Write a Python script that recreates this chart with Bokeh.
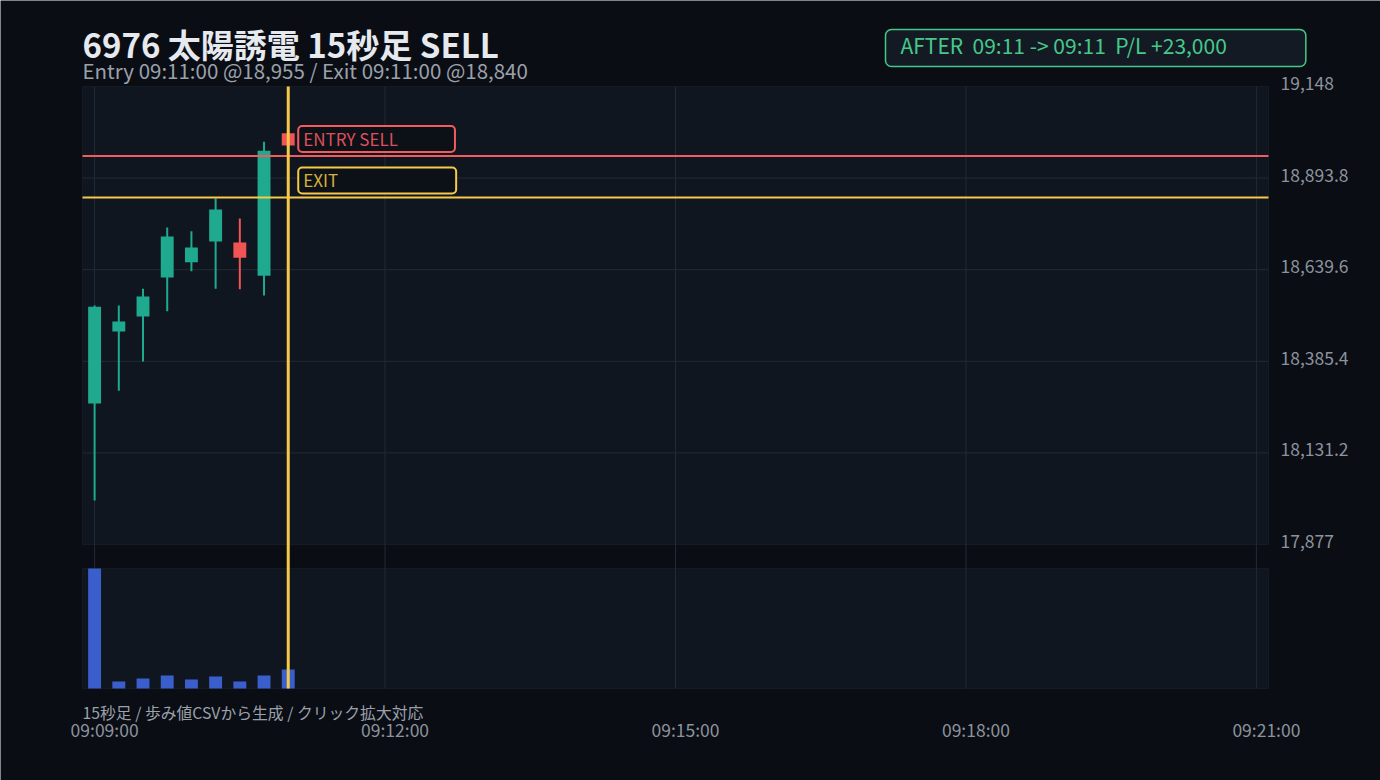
import pandas as pd
from bokeh.plotting import figure
from bokeh.models import (Range1d, Label, LabelSet, ColumnDataSource, BoxAnnotation)
from bokeh.core.properties import value
from bokeh.embed import file_html
from bokeh.resources import INLINE

FONT = "Noto Sans CJK JP"

# ---------------- data ----------------
session_date = "2024-01-01"
bar_times = ["09:09:00", "09:09:15", "09:09:30", "09:09:45", "09:10:00",
             "09:10:15", "09:10:30", "09:10:45", "09:11:00"]
opens = [18268, 18468, 18510, 18618, 18660, 18718, 18715, 18623, 19018]
highs = [18540, 18540, 18587, 18757, 18746, 18837, 18782, 18995, 19018]
lows = [17999, 18304, 18385, 18524, 18635, 18587, 18585, 18568, 18984]
closes = [18537, 18496, 18565, 18732, 18701, 18807, 18673, 18970, 18984]
volumes = [3600, 210, 300, 390, 270, 360, 210, 390, 570]

price_ticks = [17877, 18131.2, 18385.4, 18639.6, 18893.8, 19148]
time_ticks = ["09:09:00", "09:12:00", "09:15:00", "09:18:00", "09:21:00"]

entry_time = "09:11:00"
entry_price = 18955
exit_price = 18840

title_text = "6976 太陽誘電 15秒足 SELL"
subtitle_text = "Entry 09:11:00 @18,955 / Exit 09:11:00 @18,840"
after_text = "AFTER\u00a0 09:11 -> 09:11\u00a0 P/L +23,000"
footer_text = "15秒足 / 歩み値CSVから生成 / クリック拡大対応"
entry_label = "ENTRY SELL"
exit_label = "EXIT"

# ---------------- styling / layout ----------------
BG = "#0a0d14"
PANEL = "#10161f"
BORDER = "#2a313b"
GRID = "#222a35"
UP = "#1faa8f"
DOWN = "#f05454"
VOL = "#3a5fcd"
YELLOW = "#f7c948"
RED_LINE = "#f25c5c"
AFTER_GREEN = "#45c98a"
TEXT = "#e6e9ee"
SUB = "#9aa1ab"
AXIS = "#8c939d"

W, H = 1380, 780
PL, PR = 82, 1268                 # panel left / right (px)
MT, MB = 86, 544                  # main panel top / bottom (px)
VT, VB = 568, 688                 # volume panel top / bottom (px)

def to_ms(t):
    ts = pd.Timestamp(f"{session_date} {t}")
    return (ts - pd.Timestamp("1970-01-01")) / pd.Timedelta(milliseconds=1)

x = [to_ms(t) for t in bar_times]
tick_ms = [to_ms(t) for t in time_ticks]
entry_ms = to_ms(entry_time)
half = 7500

colors = [UP if c >= o else DOWN for o, c in zip(opens, closes)]
body_top = [max(o, c) for o, c in zip(opens, closes)]
body_bot = [min(o, c) for o, c in zip(opens, closes)]
src = ColumnDataSource(dict(x=x, h=highs, l=lows, bt=body_top, bb=body_bot,
                            col=colors, v=volumes))

# scales: the frame is the whole canvas, panels are sub-regions of it
xs, xe = tick_ms[0] - half, tick_ms[-1] + half
mpp = (xe - xs) / (PR - PL)
p_lo, p_hi = price_ticks[0], price_ticks[-1]
upp = (p_hi - p_lo) / (MB - MT)
vmax = max(volumes)
vpp = vmax / (VB - VT)
y_panel_bottom = p_lo - (VB - MB) * upp

p = figure(width=W, height=H,
           x_range=Range1d(xs - PL * mpp, xe + (W - PR) * mpp),
           y_range=Range1d(p_lo - (H - MB) * upp, p_hi + MT * upp),
           output_backend="svg", toolbar_location=None, min_border=0,
           x_axis_location=None, y_axis_location=None,
           background_fill_color=BG, border_fill_color=BG, outline_line_color=None)
p.grid.visible = False
p.extra_y_ranges = {"vol": Range1d(-(H - VB) * vpp, vmax + VT * vpp)}

# panels
p.add_layout(BoxAnnotation(left=xs, right=xe, bottom=p_lo, top=p_hi, fill_color=PANEL,
                           fill_alpha=1, line_color=BORDER, line_width=1, level="image"))
p.add_layout(BoxAnnotation(left=xs, right=xe, bottom=0, top=vmax, y_range_name="vol",
                           fill_color=PANEL, fill_alpha=1, line_color=BORDER,
                           line_width=1, level="image"))

# grid lines
inner_p = price_ticks[1:-1]
p.segment(x0=[xs] * len(inner_p), x1=[xe] * len(inner_p), y0=inner_p, y1=inner_p,
          line_color=GRID, line_width=1)
p.segment(x0=tick_ms, x1=tick_ms, y0=[y_panel_bottom] * len(tick_ms),
          y1=[p_hi] * len(tick_ms), line_color=GRID, line_width=1)

# candles
p.segment(x0="x", y0="l", x1="x", y1="h", source=src, line_color="col", line_width=2)
p.vbar(x="x", width=8000, top="bt", bottom="bb", source=src,
       fill_color="col", line_color=None)
# volume
p.vbar(x="x", width=8000, top="v", bottom=0, source=src, y_range_name="vol",
       fill_color=VOL, line_color=None)

# entry / exit lines
p.segment(x0=[xs], x1=[xe], y0=[entry_price], y1=[entry_price], line_color=RED_LINE, line_width=2)
p.segment(x0=[xs], x1=[xe], y0=[exit_price], y1=[exit_price], line_color=YELLOW, line_width=2)
p.segment(x0=[entry_ms], x1=[entry_ms], y0=[y_panel_bottom], y1=[p_hi],
          line_color=YELLOW, line_width=3)

p.add_layout(Label(x=entry_ms, y=entry_price, x_offset=10, y_offset=4, text=entry_label,
                   text_align="left", text_baseline="bottom", text_font=FONT,
                   text_font_size="17px", text_color="#de4f5a",
                   background_fill_color="#0c1118", background_fill_alpha=1,
                   border_line_color=RED_LINE, border_line_width=2,
                   padding=dict(left=5, right=57, top=0, bottom=1), border_radius=4))
p.add_layout(Label(x=entry_ms, y=exit_price, x_offset=10, y_offset=4, text=exit_label,
                   text_align="left", text_baseline="bottom", text_font=FONT,
                   text_font_size="17px", text_color="#d6b13c",
                   background_fill_color="#0c1118", background_fill_alpha=1,
                   border_line_color=YELLOW, border_line_width=2,
                   padding=dict(left=5, right=118, top=0, bottom=1), border_radius=4))

# price axis labels (right)
price_labels = [f"{v:,.1f}".removesuffix(".0") for v in price_ticks]
psrc = ColumnDataSource(dict(y=price_ticks, t=price_labels))
p.add_layout(LabelSet(x=value(PR + 12), x_units="screen", y="y", text="t", source=psrc,
                      y_offset=3, text_align="left", text_baseline="middle",
                      text_font=value(FONT), text_font_size=value("17.5px"),
                      text_color=AXIS))

# time axis labels (bottom)
tsrc = ColumnDataSource(dict(x=tick_ms, t=time_ticks))
p.add_layout(LabelSet(x="x", y=value(H - 729), y_units="screen", text="t", source=tsrc,
                      x_offset=10, text_align="center", text_baseline="middle",
                      text_font=value(FONT), text_font_size=value("17.5px"),
                      text_color=AXIS))

# title, subtitle, status box, footer
p.add_layout(Label(x=PL, y=H - 43, x_units="screen", y_units="screen", text=title_text,
                   text_baseline="alphabetic", text_font=FONT, text_font_size="33px",
                   text_font_style="bold", text_color=TEXT))
p.add_layout(Label(x=PL, y=H - 69, x_units="screen", y_units="screen", text=subtitle_text,
                   text_baseline="alphabetic", text_font=FONT, text_font_size="20.5px",
                   text_color=SUB))
p.add_layout(Label(x=885, y=H - 66, x_units="screen", y_units="screen", text=after_text,
                   text_baseline="bottom", text_font=FONT, text_font_size="21px",
                   text_color=AFTER_GREEN, background_fill_color="#141a23",
                   background_fill_alpha=1, border_line_color=AFTER_GREEN,
                   border_line_width=1.5, border_radius=6,
                   padding=dict(left=15, right=79, top=0, bottom=7)))
p.add_layout(Label(x=PL, y=H - 712, x_units="screen", y_units="screen", text=footer_text,
                   text_baseline="middle", text_font=FONT, text_font_size="15.8px",
                   text_color=SUB))

open("out.html", "w").write(file_html(p, INLINE))
